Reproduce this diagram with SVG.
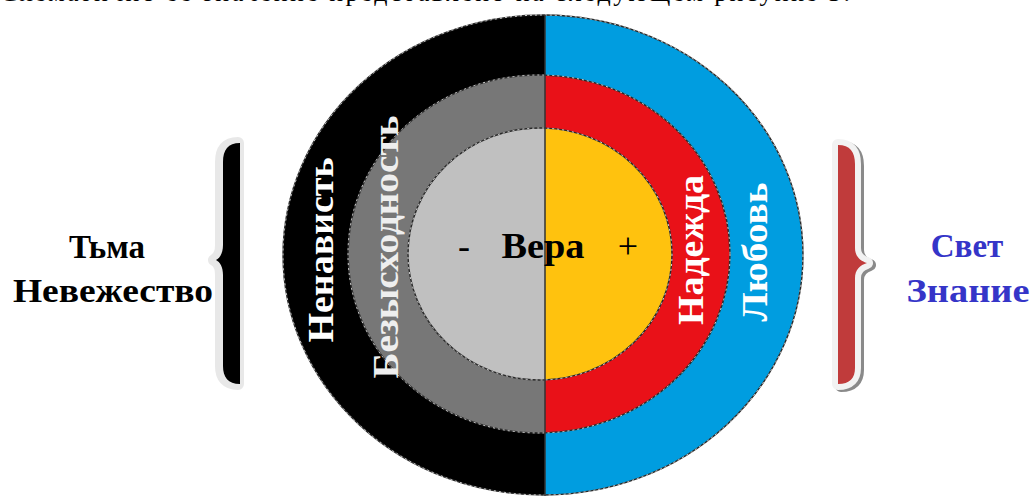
<svg xmlns="http://www.w3.org/2000/svg" width="1035" height="496" viewBox="0 0 1035 496">
  <style>
    .ring { stroke: #2a2a2a; stroke-width: 1.4; }
    .dash { fill: none; stroke: #ffffff; stroke-width: 0.8; stroke-dasharray: 2 3; }
    .lbl { font-family: "Liberation Serif", "DejaVu Serif", serif; font-weight: bold; font-size: 36px; }
    .side { font-family: "Liberation Serif", "DejaVu Serif", serif; font-weight: bold; font-size: 33px; text-anchor: middle; }
  </style>
  <defs>
    <clipPath id="leftHalf"><rect x="0" y="0" width="545" height="496"/></clipPath>
    <clipPath id="rightHalf"><rect x="545" y="0" width="490" height="496"/></clipPath>
  </defs>
  <rect width="1035" height="496" fill="#ffffff"/>

  <text x="0" y="1" font-family="Liberation Serif, serif" font-size="26" fill="#000" textLength="850" lengthAdjust="spacing">Схематично её значение представлено на следующем рисунке 3.</text>

  <g id="left-half" clip-path="url(#leftHalf)">
    <ellipse class="ring" cx="543" cy="255" rx="260" ry="240" fill="#000000"/>
    <ellipse class="dash" cx="543" cy="255" rx="260" ry="240"/>
    <ellipse class="ring" cx="539" cy="254" rx="191" ry="179" fill="#777777"/>
    <ellipse class="dash" cx="539" cy="254" rx="191" ry="179"/>
    <ellipse class="ring" cx="540" cy="254" rx="132" ry="126" fill="#c0c0c0"/>
    <ellipse class="dash" cx="540" cy="254" rx="132" ry="126"/>
  </g>
  <g id="right-half" clip-path="url(#rightHalf)">
    <ellipse class="ring" cx="543" cy="255" rx="260" ry="240" fill="#009de0"/>
    <ellipse class="dash" cx="543" cy="255" rx="260" ry="240"/>
    <ellipse class="ring" cx="539" cy="254" rx="191" ry="179" fill="#e91118"/>
    <ellipse class="dash" cx="539" cy="254" rx="191" ry="179"/>
    <ellipse class="ring" cx="540" cy="254" rx="132" ry="126" fill="#ffc20e"/>
    <ellipse class="dash" cx="540" cy="254" rx="132" ry="126"/>
  </g>
  <g id="divider">
    <line x1="545" y1="15" x2="545" y2="496" stroke="#333333" stroke-width="1.5"/>
  </g>

  <g id="ring-labels">
    <text class="lbl" fill="#ffffff" text-anchor="middle" transform="translate(333,250) rotate(-90)" textLength="185" lengthAdjust="spacingAndGlyphs">Ненависть</text>
    <text class="lbl" fill="#eeeeee" text-anchor="middle" transform="translate(398,247) rotate(-90)" textLength="263" lengthAdjust="spacingAndGlyphs">Безысходность</text>
    <text class="lbl" fill="#ffffff" text-anchor="middle" transform="translate(703,250) rotate(-90)" textLength="150" lengthAdjust="spacingAndGlyphs">Надежда</text>
    <text class="lbl" fill="#ffffff" text-anchor="middle" transform="translate(767,252) rotate(-90)" textLength="139" lengthAdjust="spacingAndGlyphs">Любовь</text>
  </g>

  <g id="center">
    <text class="lbl" x="543" y="258" text-anchor="middle" fill="#000" textLength="83" lengthAdjust="spacingAndGlyphs">Вера</text>
    <text x="464" y="258" text-anchor="middle" font-family="Liberation Serif, serif" font-size="36" fill="#000">-</text>
    <text x="628" y="258" text-anchor="middle" font-family="Liberation Serif, serif" font-size="36" fill="#000">+</text>
  </g>

  <g id="left-brace">
    <path d="M240,143 C228,143 223,150 223,162 L223,245 C223,253 220,258 216,260 C220,262 223,267 223,275 L223,366 C223,377 228,384 240,384 Z" fill="#e8e8e8" stroke="#e8e8e8" stroke-width="12" stroke-linejoin="round" transform="translate(-2,0)"/>
    <path d="M240,143 C228,143 223,150 223,162 L223,245 C223,253 220,258 216,260 C220,262 223,267 223,275 L223,366 C223,377 228,384 240,384 Z" fill="#000000"/>
  </g>
  <g id="right-brace">
    <path d="M838,145 C850,145 855,152 855,164 L855,248 C855,256 860,261 867,263 C860,265 855,270 855,278 L855,368 C855,378 850,384 838,384 Z" fill="#8a8a8a" stroke="#8a8a8a" stroke-width="12" stroke-linejoin="round" transform="translate(3,2)"/>
    <path d="M838,145 C850,145 855,152 855,164 L855,248 C855,256 860,261 867,263 C860,265 855,270 855,278 L855,368 C855,378 850,384 838,384 Z" fill="#f2f2f2" stroke="#f2f2f2" stroke-width="12" stroke-linejoin="round"/>
    <path d="M838,145 C850,145 855,152 855,164 L855,248 C855,256 860,261 867,263 C860,265 855,270 855,278 L855,368 C855,378 850,384 838,384 Z" fill="#c03b3b"/>
  </g>

  <g id="left-label">
    <text class="side" x="107" y="258" fill="#000">Тьма</text>
    <text class="side" x="113" y="302" fill="#000" textLength="200" lengthAdjust="spacingAndGlyphs">Невежество</text>
  </g>
  <g id="right-label">
    <text class="side" x="967" y="257" fill="#3535c8">Свет</text>
    <text class="side" x="968" y="302" fill="#3535c8" textLength="123" lengthAdjust="spacingAndGlyphs">Знание</text>
  </g>
</svg>
